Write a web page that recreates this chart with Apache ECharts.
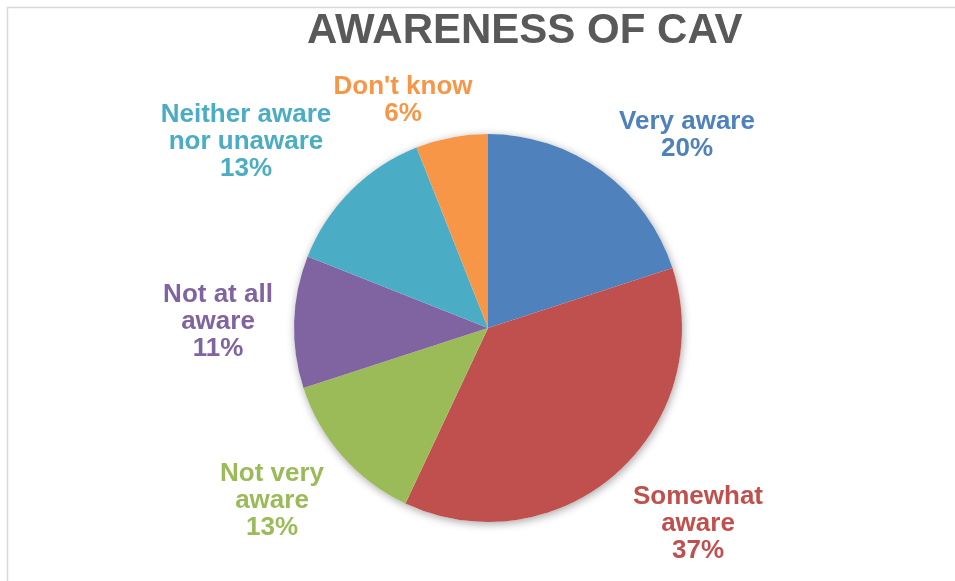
<!DOCTYPE html>
<html>
<head>
<meta charset="utf-8">
<script src="https://cdn.jsdelivr.net/npm/echarts@6/dist/echarts.min.js"></script>
<style>
  html, body { margin: 0; padding: 0; background: #fff; }
  #chart { width: 955px; height: 581px; }
</style>
</head>
<body>
<div id="chart"></div>
<script>
// Survey responses: awareness of connected and automated vehicles (CAV)
const categories = [
  'Very aware',
  'Somewhat\naware',
  'Not very\naware',
  'Not at all\naware',
  'Neither aware\nnor unaware',
  "Don't know"
];
const shares = [20, 37, 13, 11, 13, 6];
const colors = ['#4F81BD', '#C0504D', '#9BBB59', '#8064A2', '#4BACC6', '#F79646'];

// Label anchor offsets from the pie centre (layout only)
const labelOffsets = [
  [199, -193],
  [210, 196],
  [-216, 173],
  [-270, -6],
  [-242, -186],
  [-85, -228]
];

const CENTER = [488, 328];
const RADIUS = 194;

const chart = echarts.init(document.getElementById('chart'), null, { renderer: 'canvas' });

chart.setOption({
  backgroundColor: '#ffffff',
  animation: false,
  title: {
    text: 'AWARENESS OF CAV',
    left: 302,
    top: 5,
    textStyle: {
      fontFamily: 'Liberation Sans, Arial, sans-serif',
      fontWeight: 'bold',
      fontSize: 42,
      color: '#595959'
    }
  },
  graphic: [
    {
      type: 'rect',
      silent: true,
      shape: { x: 7.5, y: 7.5, width: 1200, height: 1200 },
      style: { fill: 'none', stroke: '#d9d9d9', lineWidth: 1.5 }
    }
  ],
  series: [
    {
      // soft drop shadow beneath the whole pie
      type: 'pie',
      silent: true,
      z: 1,
      center: CENTER,
      radius: RADIUS,
      label: { show: false },
      labelLine: { show: false },
      itemStyle: {
        color: '#ffffff',
        shadowBlur: 9,
        shadowColor: 'rgba(0,0,0,0.35)',
        shadowOffsetX: 1,
        shadowOffsetY: 2
      },
      data: [{ value: 1, name: '' }]
    },
    {
      type: 'pie',
      z: 2,
      center: CENTER,
      radius: RADIUS,
      startAngle: 90,
      clockwise: true,
      avoidLabelOverlap: false,
      itemStyle: { borderWidth: 0 },
      emphasis: { disabled: true },
      labelLine: { show: false },
      label: {
        show: true,
        position: 'outside',
        formatter: p => p.name + '\n' + p.value + '%',
        fontFamily: 'Liberation Sans, Arial, sans-serif',
        fontWeight: 'bold',
        fontSize: 26,
        lineHeight: 27,
        align: 'center',
        color: 'inherit'
      },
      labelLayout: params => {
        const off = labelOffsets[params.dataIndex];
        return {
          x: CENTER[0] + off[0],
          y: CENTER[1] + off[1],
          align: 'center',
          verticalAlign: 'middle'
        };
      },
      data: categories.map((name, i) => ({
        name: name,
        value: shares[i],
        itemStyle: { color: colors[i] },
        label: { color: colors[i] }
      }))
    }
  ]
});
</script>
</body>
</html>
